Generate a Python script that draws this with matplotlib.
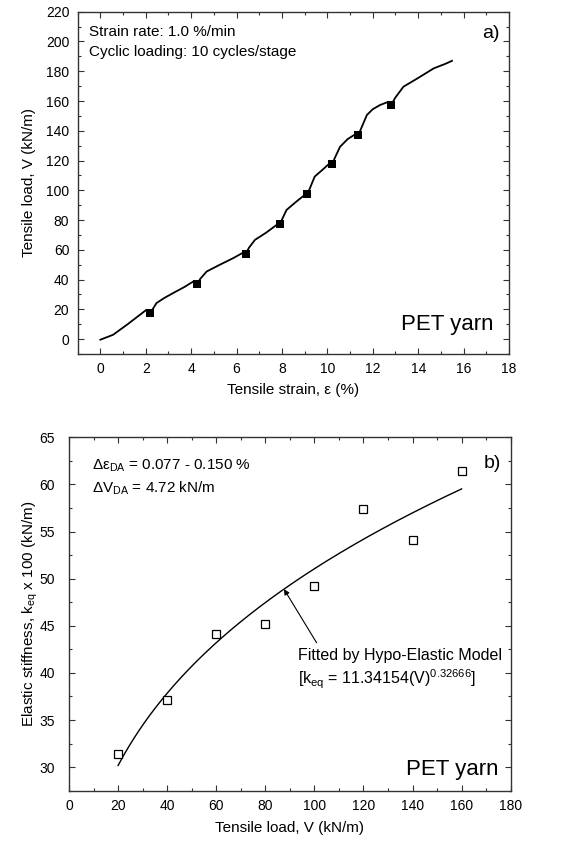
import numpy as np
import matplotlib
matplotlib.use("Agg")
import matplotlib.pyplot as plt
from matplotlib.ticker import MultipleLocator

plt.rcParams['font.family'] = ['Liberation Sans', 'DejaVu Sans']
plt.rcParams['mathtext.fontset'] = 'custom'
plt.rcParams['mathtext.rm'] = 'Liberation Sans'
plt.rcParams['mathtext.it'] = 'Liberation Sans'
plt.rcParams['mathtext.default'] = 'regular'

# (a) load-strain curve of the yarn under staged cyclic loading
strain = [0.0, 0.56, 1.2, 2.03, 2.18, 2.30, 2.47, 2.8, 3.2, 3.7, 4.09, 4.26,
          4.40, 4.68, 5.2, 5.85, 6.37, 6.40, 6.55, 6.81, 7.3, 7.76, 7.91,
          8.02, 8.2, 8.6, 9.0, 9.12, 9.22, 9.44, 9.8, 10.1, 10.22, 10.32,
          10.56, 10.9, 11.3, 11.37, 11.50, 11.74, 12.0, 12.32, 12.69, 12.81,
          12.98, 13.35, 14.0, 14.68, 15.2, 15.49]
load = [-0.4, 2.9, 10.0, 19.7, 17.4, 20.0, 24.2, 27.5, 30.9, 35.0, 38.7, 37.1,
        40.5, 45.4, 49.5, 54.4, 58.8, 57.3, 61.5, 66.7, 71.5, 76.7, 77.4,
        81.0, 86.8, 92.0, 96.9, 97.8, 101.0, 109.2, 114.0, 118.1, 117.7, 121.5,
        129.3, 134.5, 138.3, 137.4, 142.0, 150.6, 154.5, 157.3, 159.5, 157.3,
        162.0, 169.6, 175.5, 181.9, 185.0, 187.0]

# centres of the unload/reload cycle bundles at each stage
stage_strain = [2.18, 4.26, 6.40, 7.91, 9.12, 10.22, 11.37, 12.81]
stage_load = [17.4, 37.1, 57.3, 77.4, 97.8, 117.7, 137.4, 157.3]

# (b) elastic stiffness vs. tensile load
stiff_load = [20, 40, 60, 80, 100, 120, 140, 160]
stiffness = [31.35, 37.16, 44.17, 45.16, 49.27, 57.38, 54.09, 61.46]

# hypo-elastic model k_eq = a * V^b
fit_a = 11.34154
fit_b = 0.32666


def style_axes(ax):
    ax.tick_params(which='both', direction='in', top=True, right=True,
                   labelsize=10, color='#333333', width=0.8)
    ax.tick_params(which='major', length=4.5, pad=6)
    ax.tick_params(which='minor', length=2.5)
    for sp in ax.spines.values():
        sp.set_linewidth(1.0)
        sp.set_color('#333333')


fig = plt.figure(figsize=(5.68, 8.43), dpi=100)

# --- (a) ---
ax1 = fig.add_axes([0.1368, 0.5801, 0.7593, 0.4060])
ax1.plot(strain, load, color='black', lw=1.3)
ax1.plot(stage_strain, stage_load, 's', color='black', ms=6, mew=0)
ax1.set_xlim(-1, 18)
ax1.set_ylim(-10, 220)
ax1.xaxis.set_major_locator(MultipleLocator(2))
ax1.xaxis.set_minor_locator(MultipleLocator(1))
ax1.yaxis.set_major_locator(MultipleLocator(20))
ax1.yaxis.set_minor_locator(MultipleLocator(10))
style_axes(ax1)
ax1.set_xlabel('Tensile strain, \u03b5 (%)', fontsize=11, labelpad=5)
ax1.set_ylabel('Tensile load, V (kN/m)', fontsize=11, labelpad=7)
ax1.text(-0.5, 206.5, 'Strain rate: 1.0 %/min', fontsize=11, va='center')
ax1.text(-0.5, 192.6, 'Cyclic loading: 10 cycles/stage', fontsize=11, va='center')
ax1.text(17.6, 205.4, 'a)', fontsize=14, ha='right', va='center')
ax1.text(17.3, 9.6, 'PET yarn', fontsize=16, ha='right', va='center')

# --- (b) ---
ax2 = fig.add_axes([0.1215, 0.0620, 0.7776, 0.4193])
v_fit = np.linspace(stiff_load[0], stiff_load[-1], 200)
ax2.plot(v_fit, fit_a * v_fit ** fit_b, color='black', lw=1.0)
ax2.plot(stiff_load, stiffness, 's', mfc='white', mec='black', ms=5.5, mew=0.9)
ax2.set_xlim(0, 180)
ax2.set_ylim(27.5, 65)
ax2.xaxis.set_major_locator(MultipleLocator(20))
ax2.xaxis.set_minor_locator(MultipleLocator(10))
ax2.yaxis.set_major_locator(MultipleLocator(5))
ax2.yaxis.set_minor_locator(MultipleLocator(2.5))
style_axes(ax2)
ax2.tick_params(axis='y', which='major', pad=10)
ax2.set_xlabel('Tensile load, V (kN/m)', fontsize=11, labelpad=6)
ax2.set_ylabel('Elastic stiffness, k$_{eq}$ x 100 (kN/m)', fontsize=11, labelpad=0)
ax2.text(9.2, 62.0, '\u0394\u03b5$_{DA}$ = 0.077 - 0.150 %', fontsize=11, va='center')
ax2.text(9.2, 59.6, '\u0394V$_{DA}$ = 4.72 kN/m', fontsize=11, va='center')
ax2.text(176, 62.2, 'b)', fontsize=14, ha='right', va='center')
ax2.text(175, 29.8, 'PET yarn', fontsize=16, ha='right', va='center')
v_arrow = 87.6
ax2.annotate('', xy=(v_arrow, fit_a * v_arrow ** fit_b), xytext=(100.9, 43.2),
             arrowprops=dict(arrowstyle='-|>', color='black', lw=0.8,
                             mutation_scale=8, shrinkA=0, shrinkB=0))
ax2.text(93.5, 41.8, 'Fitted by Hypo-Elastic Model', fontsize=11.5, va='center')
ax2.text(93.5, 39.3, '[k$_{eq}$ = 11.34154(V)$^{0.32666}$]', fontsize=11.5, va='center')

fig.savefig('out.png', dpi=100)
